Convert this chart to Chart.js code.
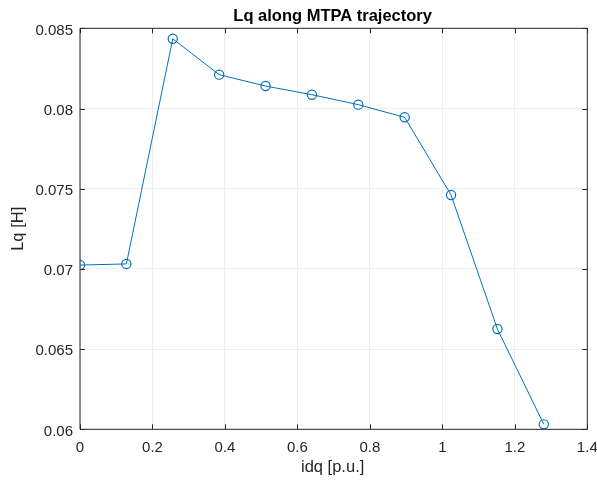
<!DOCTYPE html>
<html>
<head>
<meta charset="utf-8">
<script src="https://cdn.jsdelivr.net/npm/chart.js@4/dist/chart.umd.min.js"></script>
<style>
  html, body { margin: 0; padding: 0; background: #ffffff; }
  #wrap { width: 597px; height: 481px; }
</style>
</head>
<body>
<div id="wrap"><canvas id="c" width="597" height="481"></canvas></div>
<script>
// Lq sampled along the MTPA trajectory
const idq = [0, 0.128, 0.256, 0.384, 0.512, 0.640, 0.768, 0.896, 1.024, 1.152, 1.280];
const lq  = [0.07024, 0.07031, 0.08435, 0.08211, 0.08140, 0.08086, 0.08024, 0.07945, 0.07461, 0.06625, 0.06031];

const xTickLabels = ['0', '0.2', '0.4', '0.6', '0.8', '1', '1.2', '1.4'];
const yTickLabels = ['0.06', '0.065', '0.07', '0.075', '0.08', '0.085'];

const titleText = 'Lq along MTPA trajectory';
const xLabel = 'idq [p.u.]';
const yLabel = 'Lq [H]';

const FONT = '"Liberation Sans", Arial, Helvetica, sans-serif';
const INK = '#262626';
const LINE = '#0072BD';

// Frame, inward ticks on all sides, tick labels, title and axis labels
const axesDecor = {
  id: 'axesDecor',
  afterDraw(chart) {
    const { ctx, chartArea: a, scales } = chart;
    const xs = scales.x, ys = scales.y;
    const tl = 5;
    ctx.save();
    ctx.strokeStyle = INK;
    ctx.lineWidth = 1;
    ctx.beginPath();
    ctx.rect(a.left, a.top, a.right - a.left, a.bottom - a.top);
    ctx.stroke();
    ctx.beginPath();
    xs.ticks.forEach(t => {
      const px = Math.round(xs.getPixelForValue(t.value)) + 0.5;
      ctx.moveTo(px, a.bottom); ctx.lineTo(px, a.bottom - tl);
      ctx.moveTo(px, a.top); ctx.lineTo(px, a.top + tl);
    });
    ys.ticks.forEach(t => {
      const py = Math.round(ys.getPixelForValue(t.value)) + 0.5;
      ctx.moveTo(a.left, py); ctx.lineTo(a.left + tl, py);
      ctx.moveTo(a.right, py); ctx.lineTo(a.right - tl, py);
    });
    ctx.stroke();

    // tick labels
    ctx.fillStyle = INK;
    ctx.font = '15px ' + FONT;
    ctx.textBaseline = 'alphabetic';
    ctx.textAlign = 'center';
    xs.ticks.forEach((t, i) => {
      ctx.fillText(xTickLabels[i], xs.getPixelForValue(t.value), a.bottom + 22.7);
    });
    ctx.textAlign = 'right';
    ys.ticks.forEach((t, i) => {
      ctx.fillText(yTickLabels[i], a.left - 7, ys.getPixelForValue(t.value) + 6.3);
    });

    const cx = (a.left + a.right) / 2;
    const cy = (a.top + a.bottom) / 2;

    ctx.fillStyle = '#000000';
    ctx.textAlign = 'center';
    ctx.font = 'bold 16.5px ' + FONT;
    ctx.fillText(titleText, cx - 1, 20.7);

    ctx.fillStyle = INK;
    ctx.font = '16.5px ' + FONT;
    ctx.fillText(xLabel, cx - 1, 472);

    ctx.translate(23, cy);
    ctx.rotate(-Math.PI / 2);
    ctx.fillText(yLabel, 0, 0);
    ctx.restore();
  }
};

new Chart(document.getElementById('c'), {
  type: 'line',
  data: {
    datasets: [{
      data: idq.map((x, i) => ({ x: x, y: lq[i] })),
      borderColor: LINE,
      borderWidth: 1,
      backgroundColor: 'rgba(0,0,0,0)',
      pointStyle: 'circle',
      pointRadius: 4.6,
      pointBorderWidth: 1.2,
      pointBorderColor: LINE,
      pointBackgroundColor: 'rgba(0,0,0,0)',
      tension: 0,
      fill: false
    }]
  },
  options: {
    responsive: false,
    animation: false,
    events: [],
    layout: { padding: { left: 0, right: 9.7, top: 28.3, bottom: 0 } },
    plugins: { legend: { display: false }, title: { display: false }, tooltip: { enabled: false } },
    scales: {
      x: {
        type: 'linear',
        min: 0, max: 1.4,
        afterBuildTicks(s) { s.ticks = xTickLabels.map(l => ({ value: parseFloat(l) })); },
        afterFit(s) { s.height = 51.7; },
        border: { display: false },
        grid: { color: '#eeeeee', lineWidth: 1, drawTicks: false },
        ticks: { display: false }
      },
      y: {
        type: 'linear',
        min: 0.06, max: 0.085,
        afterBuildTicks(s) { s.ticks = yTickLabels.map(l => ({ value: parseFloat(l) })); },
        afterFit(s) { s.width = 80; },
        border: { display: false },
        grid: { color: '#eeeeee', lineWidth: 1, drawTicks: false },
        ticks: { display: false }
      }
    }
  },
  plugins: [axesDecor]
});
</script>
</body>
</html>
